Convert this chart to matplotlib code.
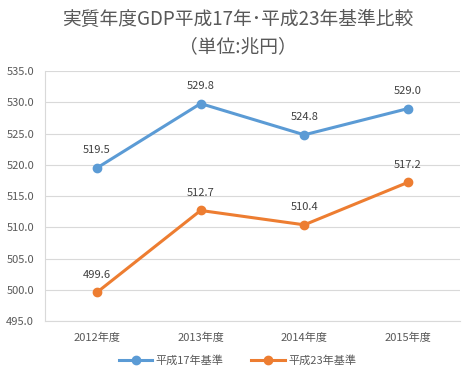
import matplotlib.pyplot as plt

plt.rcParams['font.family'] = ['Noto Sans CJK JP', 'DejaVu Sans']

nendo = ['2012年度', '2013年度', '2014年度', '2015年度']
h17 = [519.5, 529.8, 524.8, 529.0]
h23 = [499.6, 512.7, 510.4, 517.2]

ao = '#5B9BD5'
daidai = '#ED7D31'
moji = '#595959'

fig = plt.figure(figsize=(4.75, 3.76), dpi=100)
ax = fig.add_axes([0.095, 0.146, 0.873, 0.665])

x = range(len(nendo))
ax.plot(x, h17, color=ao, lw=2.2, marker='o', ms=6, label='平成17年基準')
ax.plot(x, h23, color=daidai, lw=2.2, marker='o', ms=6, label='平成23年基準')

for xi, v in zip(x, h17):
    ax.annotate(f'{v:.1f}', (xi, v), xytext=(0, 9), textcoords='offset points',
                ha='center', va='bottom', fontsize=8, color='#404040')
for xi, v in zip(x, h23):
    ax.annotate(f'{v:.1f}', (xi, v), xytext=(0, 9), textcoords='offset points',
                ha='center', va='bottom', fontsize=8, color='#404040')

ax.set_xlim(-0.5, 3.5)
ax.set_ylim(495, 535)
ax.set_yticks(range(495, 536, 5))
ax.set_yticklabels([f'{v:.1f}' for v in range(495, 536, 5)])
ax.set_xticks(list(x))
ax.set_xticklabels(nendo)
ax.tick_params(axis='both', length=0, labelsize=8, colors=moji, pad=8)
ax.grid(axis='y', color='#D9D9D9', lw=0.8)
ax.set_axisbelow(True)
for s in ['top', 'right']:
    ax.spines[s].set_visible(False)
ax.spines['left'].set_color('#D9D9D9')
ax.spines['bottom'].set_color('#D9D9D9')

fig.text(0.5, 0.912, '実質年度GDP平成17年･平成23年基準比較\n（単位:兆円）', ha='center', va='center',
         fontsize=13.5, color=moji, linespacing=1.45)

fig.legend(loc='center', bbox_to_anchor=(0.5, 0.04), ncol=2, frameon=False,
           fontsize=8, labelcolor=moji, handlelength=3, columnspacing=2.5, handletextpad=0.3)

fig.savefig('out.png', dpi=100)
